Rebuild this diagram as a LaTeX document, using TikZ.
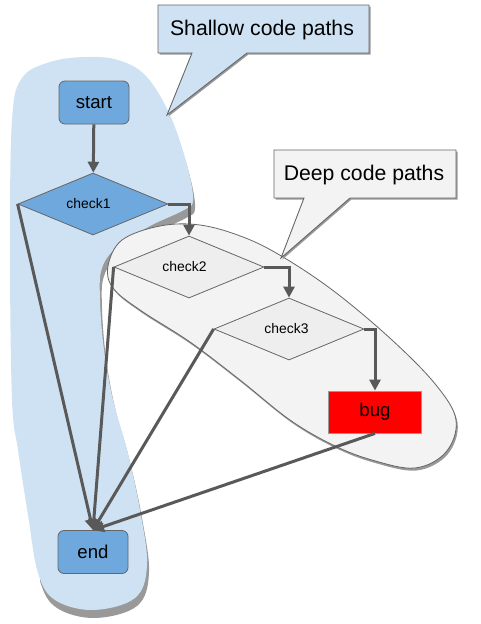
\documentclass[tikz,border=0pt]{standalone}
\usepackage{fontspec}
\setmainfont{Liberation Sans}
\usetikzlibrary{shapes.geometric,arrows.meta}
\definecolor{blobblue}{HTML}{CFE2F3}
\definecolor{nodeblue}{HTML}{6FA8DC}
\definecolor{deepgray}{HTML}{F3F3F3}
\definecolor{diagray}{HTML}{EEEEEE}
\definecolor{linegray}{HTML}{595959}
\definecolor{shadowgray}{HTML}{999999}
\definecolor{edgegray}{HTML}{666666}
\begin{document}
\begin{tikzpicture}[x=1pt,y=-1pt,
  term/.style={draw=edgegray, fill=nodeblue, rounded corners=6pt, minimum width=70pt, minimum height=43pt, inner sep=0pt, line width=0.8pt, font=\fontsize{18.6}{22}\selectfont},
  decision/.style={diamond, aspect=2.4, draw=edgegray, line width=0.8pt, minimum width=150pt, minimum height=62pt, inner sep=0pt, font=\fontsize{13.9}{16}\selectfont},
  bugbox/.style={draw=shadowgray, fill=red, minimum width=93pt, minimum height=42pt, inner sep=0pt, line width=0.8pt, font=\fontsize{18.6}{22}\selectfont},
  flow/.style={draw=linegray, line width=3pt, -{Triangle[length=11pt,width=11pt]}},
  callouttext/.style={inner sep=0pt, font=\fontsize{21.2}{25}\selectfont},
  calloutframe/.style={draw=edgegray, line width=0.9pt},
  calloutshadow/.style={fill=shadowgray, draw=none}
]
\useasboundingbox (0,0) rectangle (480,624);

% shallow region blob
\begin{scope}
\clip (40,0) rectangle (480,624);
\fill[shadowgray, shift={(2,8)}] plot[smooth cycle, tension=0.6] coordinates {
 (12,400) (10,250) (12,120) (22,78) (50,62) (85,57) (118,60) (146,76) (170,115) (187,165) (193,200)
 (184,210) (150,226) (118,246) (102,268) (100,300) (104,350) (113,400) (127,450) (140,510) (147,565)
 (135,598) (93,610) (55,600) (38,573) (28,515) (18,450)};
\end{scope}
\fill[blobblue] plot[smooth cycle, tension=0.6] coordinates {
 (12,400) (10,250) (12,120) (22,78) (50,62) (85,57) (118,60) (146,76) (170,115) (187,165) (193,200)
 (184,210) (150,226) (118,246) (102,268) (100,300) (104,350) (113,400) (127,450) (140,510) (147,565)
 (135,598) (93,610) (55,600) (38,573) (28,515) (18,450)};

% deep region blob
\fill[shadowgray, shift={(1.5,2.5)}] plot[smooth cycle, tension=0.6] coordinates {
 (108,266) (122,240) (160,226) (200,225) (243,237) (283,257) (335,292) (392,340) (436,385) (456,420)
 (446,452) (415,468) (372,460) (333,445) (290,420) (240,380) (190,342) (140,310) (113,288)};
\filldraw[fill=deepgray, draw=edgegray, line width=0.8pt] plot[smooth cycle, tension=0.6] coordinates {
 (108,266) (122,240) (160,226) (200,225) (243,237) (283,257) (335,292) (392,340) (436,385) (456,420)
 (446,452) (415,468) (372,460) (333,445) (290,420) (240,380) (190,342) (140,310) (113,288)};

% callouts
\fill[calloutshadow, shift={(1.5,1.5)}] (158,5) -- (369,5) -- (369,53) -- (247,53) -- (167,115) -- (192,53) -- (158,53) -- cycle;
\filldraw[calloutframe, fill=blobblue] (158,5) -- (369,5) -- (369,53) -- (247,53) -- (167,115) -- (192,53) -- (158,53) -- cycle;
\node[callouttext] (shallowlbl) at (262,30) {Shallow code paths};

\fill[calloutshadow, shift={(1.5,1.5)}] (274,150) -- (456,150) -- (456,198) -- (350,198) -- (281,258) -- (304,198) -- (274,198) -- cycle;
\filldraw[calloutframe, fill=deepgray] (274,150) -- (456,150) -- (456,198) -- (350,198) -- (281,258) -- (304,198) -- (274,198) -- cycle;
\node[callouttext] (deeplbl) at (364,175) {Deep code paths};

% nodes
\node[term] (start) at (94,102.5) {start};
\node[decision, fill=nodeblue] (c1) at (93,204) {\hspace*{-9pt}check1};
\node[decision, fill=diagray] (c2) at (189,267) {\hspace*{-9pt}check2};
\node[decision, fill=diagray] (c3) at (289,329) {\hspace*{-5pt}check3};
\node[bugbox] (bug) at (375,412) {bug};
\node[term] (end) at (93,552) {end};

% connectors
\draw[flow] (start) -- (c1);
\draw[flow] (c1.east) -| (c2.north);
\draw[flow] (c2.east) -| (c3.north);
\draw[flow] (c3.east) -| (bug.north);
\draw[flow] (c1.west) -- (end.north);
\draw[flow] (c2.west) -- (end.north);
\draw[flow] (c3.west) -- (end.north);
\draw[flow] (bug.south) -- (end.north);
\end{tikzpicture}
\end{document}
